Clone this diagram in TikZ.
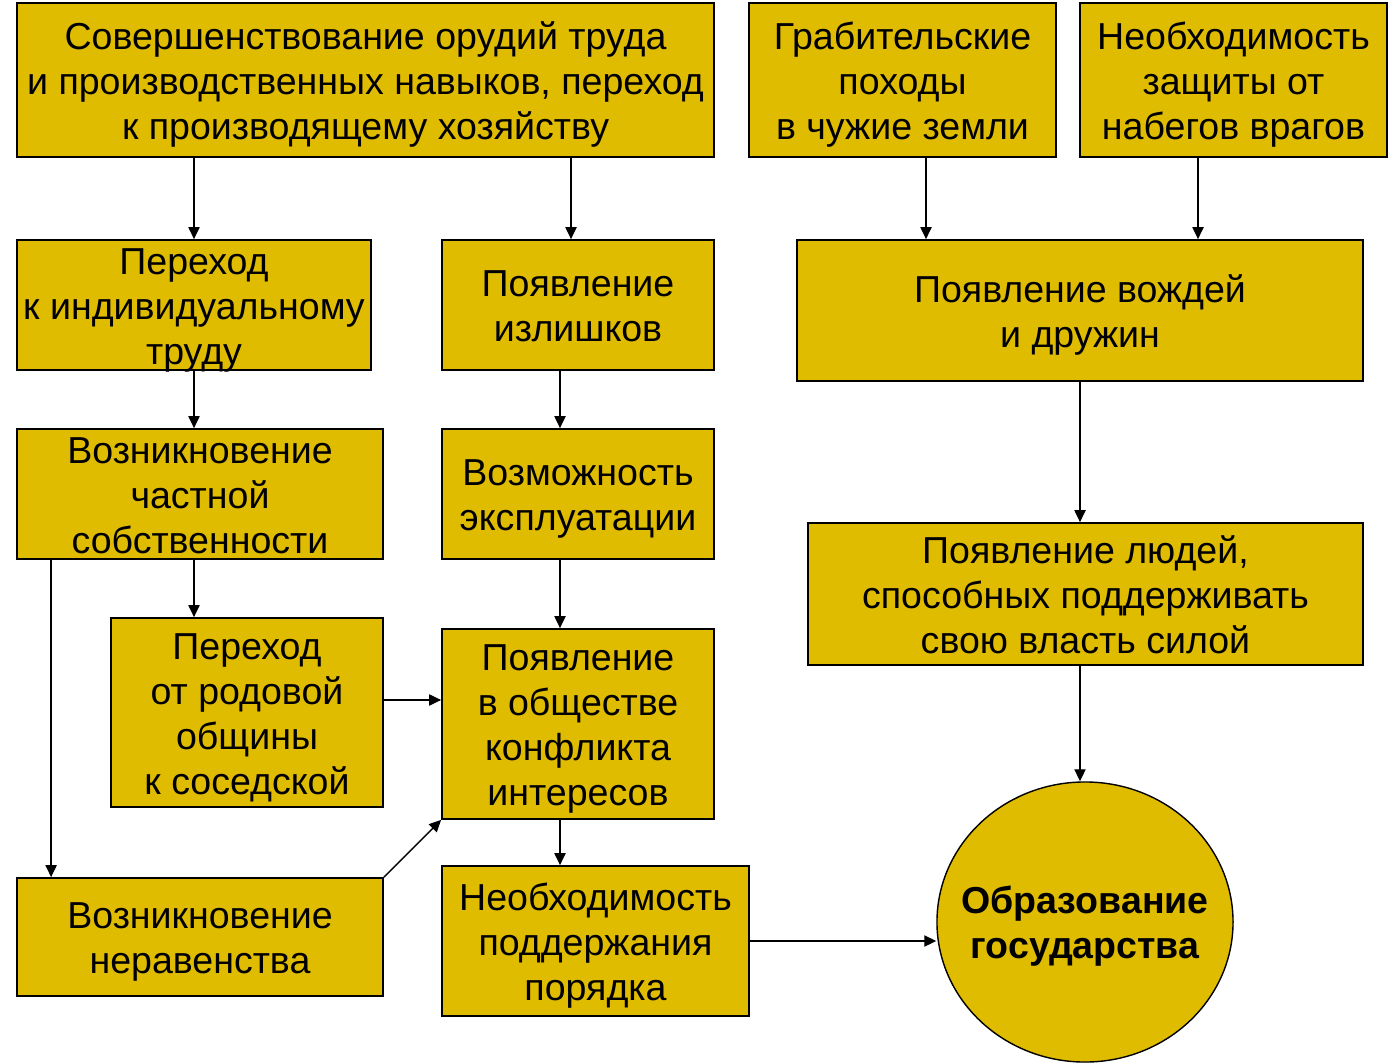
\documentclass[tikz,border=0pt]{standalone}
\usepackage{fontspec}
\setmainfont{Liberation Sans}
\usepackage{xcolor}
\usetikzlibrary{calc, arrows.meta, shapes.geometric}

\definecolor{gold}{RGB}{224,188,0}
\newcommand{\topline}{\rule{0pt}{27pt}}
\newcommand{\bottomline}{\rule[-7pt]{0pt}{7pt}}

\begin{document}
\begin{tikzpicture}[x = 0.025cm, y = -0.025cm,
		box/.style = {draw, line width = 1.2pt, fill = gold, inner xsep = 0pt, inner ysep = -0.2cm,
			align = center, font = \fontsize{26.7pt}{32pt}\selectfont},
		state/.style = {draw, line width = 1pt, fill = gold, ellipse, inner sep = 0pt,
			minimum width = 7.4cm, minimum height = 7cm},
		state text/.style = {align = center, font = \fontsize{26.7pt}{32pt}\selectfont\bfseries},
		arr/.style = {-{Triangle[length = 0.3cm, width = 0.28cm]}, line width = 1pt}]
		
		\useasboundingbox (0,0) rectangle (1393,1063);
		
		\node [box, minimum width = 17.425cm, minimum height = 3.85cm] (tools) at (365.5, 80)
			{\topline Совершенствование орудий труда\\и производственных навыков, переход\\к производящему хозяйству\bottomline};
		\node [box, minimum width = 7.675cm, minimum height = 3.85cm] (raids) at (902.5, 80)
			{\topline Грабительские\\походы\\в чужие земли\bottomline};
		\node [box, minimum width = 7.675cm, minimum height = 3.85cm] (defence) at (1233.5, 80)
			{\topline Необходимость\\защиты от\\набегов врагов\bottomline};
		
		\node [box, minimum width = 8.85cm, minimum height = 3.25cm] (labour) at (194, 305)
			{\topline Переход\\к индивидуальному\\труду\bottomline};
		\node [box, minimum width = 6.8cm, minimum height = 3.25cm] (surplus) at (578, 305)
			{\topline Появление\\излишков\bottomline};
		\node [box, minimum width = 14.15cm, minimum height = 3.525cm] (chiefs) at (1080, 310.5)
			{\topline Появление вождей\\и дружин\bottomline};
		
		\node [box, minimum width = 9.15cm, minimum height = 3.25cm] (property) at (200, 494)
			{\topline Возникновение\\частной\\собственности\bottomline};
		\node [box, minimum width = 6.8cm, minimum height = 3.25cm] (exploit) at (578, 494)
			{\topline Возможность\\эксплуатации\bottomline};
		\node [box, minimum width = 13.875cm, minimum height = 3.55cm] (force) at (1085.5, 594)
			{\topline Появление людей,\\способных поддерживать\\свою власть силой\bottomline};
		
		\node [box, minimum width = 6.8cm, minimum height = 4.725cm] (community) at (247, 712.5)
			{\topline Переход\\от родовой\\общины\\к соседской\bottomline};
		\node [box, minimum width = 6.8cm, minimum height = 4.75cm] (conflict) at (578, 724)
			{\topline Появление\\в обществе\\конфликта\\интересов\bottomline};
		
		\node [box, minimum width = 9.15cm, minimum height = 2.95cm] (inequality) at (200, 937)
			{\topline Возникновение\\неравенства\bottomline};
		\node [box, minimum width = 7.675cm, minimum height = 3.75cm] (order) at (595.5, 941)
			{\topline Необходимость\\поддержания\\порядка\bottomline};
		
		\node [state] (statehood) at (1085, 922) {};
		\node [state text] (statehood text) at ($ (statehood) + (0,4) $) {Образование\\государства};
		
		\coordinate (surplus in) at ($ (surplus.north) + (-7,0) $);
		\coordinate (raids in) at ($ (chiefs.north) + (-154,0) $);
		\coordinate (defence in) at ($ (chiefs.north) + (118,0) $);
		\coordinate (middle line) at ($ (exploit.north) + (-18,0) $);
		\coordinate (left line) at ($ (property.south west) + (35,0) $);
		\coordinate (community out) at ($ (community.east) + (0,-12.5) $);
		
		\draw [arr] (tools.south -| labour.north) -- (labour.north);
		\draw [arr] (tools.south -| surplus in) -- (surplus in);
		\draw [arr] (raids.south -| raids in) -- (raids in);
		\draw [arr] (defence.south -| defence in) -- (defence in);
		
		\draw [arr] (labour.south) -- (property.north -| labour.south);
		\draw [arr] (surplus.south -| middle line) -- (exploit.north -| middle line);
		\draw [arr] (chiefs.south) -- (force.north -| chiefs.south);
		
		\draw [arr] (property.south -| labour.south) -- (community.north -| labour.south);
		\draw [arr] (left line) -- (inequality.north -| left line);
		\draw [arr] (exploit.south -| middle line) -- (conflict.north -| middle line);
		
		\draw [arr] (community out) -- (community out -| conflict.west);
		\draw [arr] (inequality.north east) -- (conflict.south west);
		\draw [arr] (conflict.south -| middle line) -- (order.north -| middle line);
		
		\draw [arr] (order.east) -- (order.east -| statehood.west);
		\draw [arr] (force.south -| chiefs.south) -- (statehood.north -| chiefs.south);
	\end{tikzpicture}
\end{document}
